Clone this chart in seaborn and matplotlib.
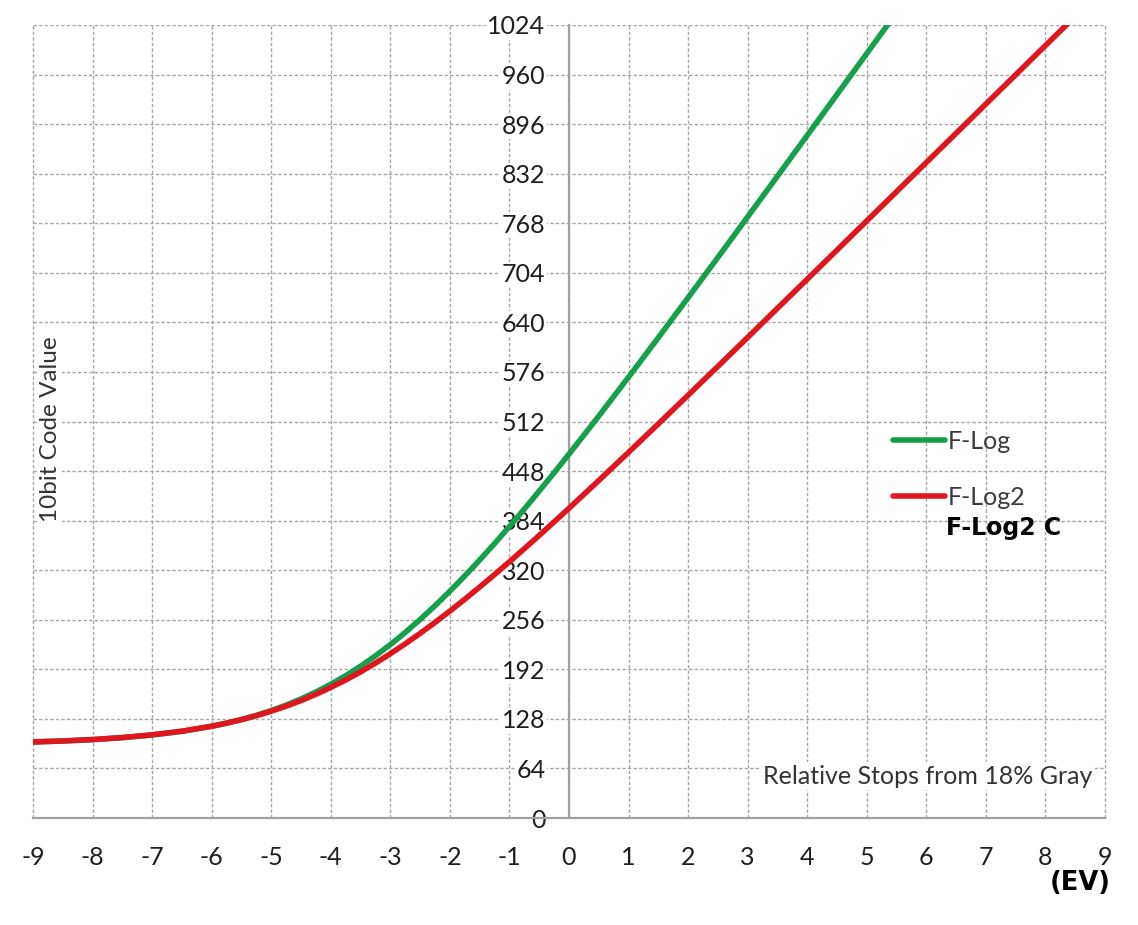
import matplotlib
matplotlib.use('Agg')
import matplotlib.pyplot as plt
import seaborn as sns
import pandas as pd

# ---- data ----
ev_flog = [-9, -8.5, -8, -7.5, -7, -6.5, -6, -5.75, -5.5, -5.25, -5, -4.75, -4.5, -4.25,
           -4, -3.75, -3.5, -3.25, -3, -2.75, -2.5, -2.25, -2, -1.75, -1.5, -1.25,
           -1, -0.75, -0.5, -0.25, 0, 0.5, 1, 1.5, 2, 2.5, 3, 3.5, 4, 4.5, 5, 5.5]
code_flog = [98.2, 99.4, 101.2, 103.7, 107.2, 111.9, 118.4, 122.5, 127.2, 132.6, 138.7,
             145.8, 153.7, 162.7, 172.7, 183.8, 196.0, 209.4, 223.9, 239.6, 256.3,
             274.1, 292.9, 312.6, 333.1, 354.4, 376.4, 399.0, 422.2, 445.8, 469.9,
             519.0, 569.3, 620.3, 671.9, 723.9, 776.3, 828.8, 881.5, 934.3, 987.2,
             1040.1]

ev_flog2 = [-9, -8.5, -8, -7.5, -7, -6.5, -6, -5.75, -5.5, -5.25, -5, -4.75, -4.5, -4.25,
            -4, -3.75, -3.5, -3.25, -3, -2.75, -2.5, -2.25, -2, -1.75, -1.5, -1.25,
            -1, -0.75, -0.5, -0.25, 0, 0.5, 1, 1.5, 2, 2.5, 3, 3.5, 4, 4.5, 5, 5.5,
            6, 6.5, 7, 7.5, 8, 8.5]
code_flog2 = [98.2, 99.5, 101.3, 103.9, 107.4, 112.1, 118.5, 122.5, 127.0, 132.1, 137.9,
              144.4, 151.6, 159.7, 168.6, 178.2, 188.7, 200.0, 212.1, 224.9, 238.4,
              252.5, 267.2, 282.5, 298.2, 314.4, 330.9, 347.8, 364.9, 382.4, 400.0,
              435.8, 472.2, 508.9, 546.0, 583.2, 620.6, 658.2, 695.7, 733.4, 771.1,
              808.8, 846.5, 884.2, 922.0, 959.7, 997.5, 1035.2]

curve_names = ['F-Log', 'F-Log2']
x_ticks = [-9, -8, -7, -6, -5, -4, -3, -2, -1, 0, 1, 2, 3, 4, 5, 6, 7, 8, 9]
y_ticks = [0, 64, 128, 192, 256, 320, 384, 448, 512, 576, 640, 704, 768, 832, 896, 960, 1024]

df = pd.concat([
    pd.DataFrame({'EV': ev_flog, 'Code': code_flog, 'Curve': curve_names[0]}),
    pd.DataFrame({'EV': ev_flog2, 'Code': code_flog2, 'Curve': curve_names[1]}),
], ignore_index=True)

sns.set_style('white')
plt.rcParams['font.family'] = ['Lato', 'DejaVu Sans']
plt.rcParams['axes.unicode_minus'] = False

W, H = 1138, 925
fig = plt.figure(figsize=(W / 100, H / 100), dpi=100)
ax = fig.add_axes([33 / W, 1 - 818 / H, 1072 / W, 793 / H])

palette = {'F-Log': '#14A04C', 'F-Log2': '#E0161E'}
sns.lineplot(data=df, x='EV', y='Code', hue='Curve', hue_order=curve_names,
             palette=palette, estimator=None, sort=False, linewidth=4.0,
             ax=ax, legend=False, zorder=3)
for ln in ax.get_lines():
    ln.set_solid_capstyle('round')
    ln.set_solid_joinstyle('round')

ax.set_xlim(-9, 9)
ax.set_ylim(0, 1024)
ax.set_xticks(x_ticks)
ax.set_yticks(y_ticks)
ax.set_xlabel('')
ax.set_ylabel('')

ax.grid(True, color='#A8A8A8', linestyle=(0, (2.5, 1.5)), linewidth=1.0)
ax.set_axisbelow(True)
for gl in ax.xaxis.get_gridlines() + ax.yaxis.get_gridlines():
    gl.set_clip_on(False)

ax.spines['left'].set_position(('data', 0))
for s in ['left', 'bottom']:
    ax.spines[s].set_color('#A0A0A0')
    ax.spines[s].set_linewidth(1.6)
    ax.spines[s].set_zorder(2)
ax.spines['top'].set_visible(False)
ax.spines['right'].set_visible(False)

ax.tick_params(axis='x', direction='out', length=6, width=1.2, color='#A0A0A0',
               pad=14, labelsize=18, labelcolor='#1e1e1e')
ax.tick_params(axis='y', length=0, pad=17, labelsize=18, labelcolor='#1e1e1e')
for lbl in ax.get_yticklabels():
    lbl.set_bbox(dict(facecolor='white', edgecolor='none', pad=1))

handles = ax.get_lines()[:2]
leg = ax.legend(handles=handles, labels=curve_names, frameon=False, loc='upper left',
                bbox_to_anchor=(0.802, 0.489), borderpad=0, borderaxespad=0,
                handlelength=2.1, handletextpad=0.1, labelspacing=1.32, fontsize=18)
for t in leg.get_texts():
    t.set_color('#3a3a3a')

ax.text(6.33, 375, 'F-Log2 C', ha='left', va='center', fontsize=17,
        fontweight='bold', color='black', family=['DejaVu Sans'])

ax.text(8.79, 54, 'Relative Stops from 18% Gray', ha='right', va='center',
        fontsize=18, color='#333333',
        bbox=dict(facecolor='white', edgecolor='none', pad=2), zorder=4)

ax.text(0.016, 0.49, '10bit Code Value', transform=ax.transAxes, rotation=90,
        ha='center', va='center', fontsize=17.5, color='#333333',
        bbox=dict(facecolor='white', edgecolor='none', pad=1))

fig.text(1111 / W, 1 - 883 / H, '(EV)', ha='right', va='center', fontsize=18.5,
         fontweight='bold', color='black', family=['DejaVu Sans'])

fig.savefig('out.png', dpi=100, facecolor='white')
